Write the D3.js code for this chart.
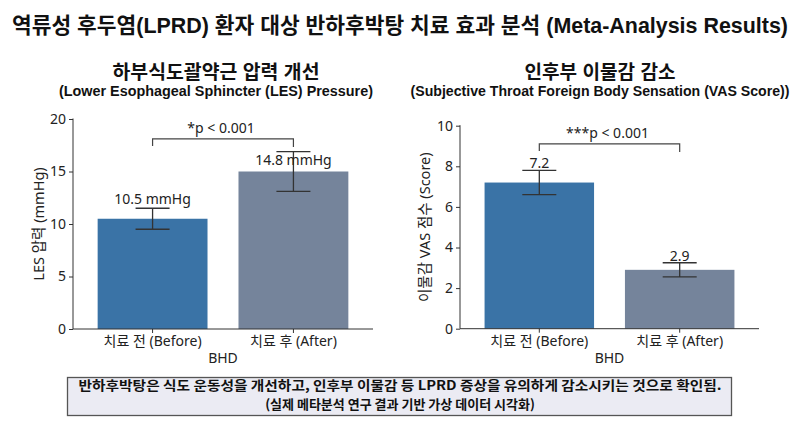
<!DOCTYPE html>
<html>
<head>
<meta charset="utf-8">
<script src="https://cdn.jsdelivr.net/npm/d3@7"></script>
<style>
  body { margin: 0; background: #fff; }
  svg { display: block; }
  .axis text { font-family: "Noto Sans", "Noto Sans CJK KR", sans-serif; font-size: 14px; fill: #222; }
  .axis path, .axis line { stroke: #333; }
</style>
</head>
<body>
<svg id="chart" width="800" height="421"></svg>
<script>
// data
const categories = ["치료 전 (Before)", "치료 후 (After)"];

const lesValues = [10.5, 15.0];
const lesErrors = [1.0, 1.9];
const lesLabels = ["10.5 mmHg", "14.8 mmHg"];
const lesLabelAt = [11.9, 15.6];
const lesTicks = [0, 5, 10, 15, 20];
const lesSig = { text: "*p < 0.001", at: 18.1 };

const vasValues = [7.2, 2.9];
const vasErrors = [0.6, 0.35];
const vasLabels = ["7.2", "2.9"];
const vasLabelAt = [7.93, 3.35];
const vasTicks = [0, 2, 4, 6, 8, 10];
const vasSig = { text: "***p < 0.001", at: 9.1 };

const barColors = ["#3a73a6", "#75849b"];

const svg = d3.select("#chart");
const kr = "'Liberation Sans', 'Noto Sans CJK KR', sans-serif";

svg.append("text")
    .attr("x", 400).attr("y", 33)
    .attr("text-anchor", "middle")
    .attr("font-family", kr).attr("font-weight", "bold").attr("font-size", 21.5)
    .attr("textLength", 776).attr("lengthAdjust", "spacingAndGlyphs")
    .attr("fill", "#111")
    .text("역류성 후두염(LPRD) 환자 대상 반하후박탕 치료 효과 분석 (Meta-Analysis Results)");

function panel(o) {
    const x = d3.scaleBand().domain(categories).range([o.left, o.right])
        .paddingInner(0.22).paddingOuter(0.175);
    const y = d3.scaleLinear().domain(o.domain).range([o.bottom, o.top]);
    const g = svg.append("g");

    g.append("text")
        .attr("x", o.titleX).attr("y", 79).attr("text-anchor", "middle")
        .attr("font-family", kr).attr("font-weight", "bold").attr("font-size", 19)
        .attr("textLength", o.titleLen).attr("lengthAdjust", "spacingAndGlyphs")
        .attr("fill", "#111").text(o.title);
    g.append("text")
        .attr("x", o.titleX).attr("y", 96).attr("text-anchor", "middle")
        .attr("font-family", kr).attr("font-weight", "bold").attr("font-size", 14)
        .attr("textLength", o.subLen).attr("lengthAdjust", "spacingAndGlyphs")
        .attr("fill", "#111").text(o.subtitle);

    g.selectAll("rect.bar")
        .data(o.values)
        .join("rect")
        .attr("class", "bar")
        .attr("x", (d, i) => x(categories[i]))
        .attr("width", x.bandwidth())
        .attr("y", d => y(d))
        .attr("height", d => y(0) - y(d))
        .attr("fill", (d, i) => barColors[i]);

    const cx = i => x(categories[i]) + x.bandwidth() / 2;
    const err = g.append("g").attr("stroke", "#333").attr("stroke-width", 1.3);
    o.values.forEach((v, i) => {
        const lo = y(v - o.errors[i]), hi = y(v + o.errors[i]);
        err.append("line").attr("x1", cx(i)).attr("x2", cx(i)).attr("y1", lo).attr("y2", hi);
        err.append("line").attr("x1", cx(i) - 17).attr("x2", cx(i) + 17).attr("y1", lo).attr("y2", lo);
        err.append("line").attr("x1", cx(i) - 17).attr("x2", cx(i) + 17).attr("y1", hi).attr("y2", hi);
    });

    g.selectAll("text.val")
        .data(o.labels)
        .join("text")
        .attr("class", "val")
        .attr("x", (d, i) => cx(i))
        .attr("y", (d, i) => y(o.labelAt[i]))
        .attr("text-anchor", "middle")
        .attr("font-family", "'Noto Sans', sans-serif").attr("font-size", 14)
        .attr("fill", "#222")
        .text(d => d);

    // significance bracket
    const by = y(o.sig.at);
    g.append("path")
        .attr("d", `M${cx(0)},${by + 7}V${by}H${cx(1)}V${by + 8}`)
        .attr("fill", "none").attr("stroke", "#444").attr("stroke-width", 1.2);
    g.append("text")
        .attr("x", (cx(0) + cx(1)) / 2 - 2).attr("y", by - 6)
        .attr("text-anchor", "middle")
        .attr("font-family", "'Noto Sans', sans-serif").attr("font-size", 14)
        .attr("fill", "#222").text(o.sig.text);

    g.append("g").attr("class", "axis")
        .attr("transform", `translate(${o.left},0)`)
        .call(d3.axisLeft(y).tickValues(o.ticks).tickSize(4).tickPadding(3))
        .call(a => a.select(".domain").attr("d", `M0,${o.top - 0.5}V${o.bottom}`));

    g.append("g").attr("class", "axis")
        .attr("transform", `translate(0,${o.bottom})`)
        .call(d3.axisBottom(x).tickSize(4).tickPadding(3))
        .call(a => a.select(".domain").attr("d", `M${o.left},0H${o.right}`));

    g.append("text")
        .attr("x", (o.left + o.right) / 2).attr("y", 363)
        .attr("text-anchor", "middle")
        .attr("font-family", "'Noto Sans', sans-serif").attr("font-size", 14)
        .attr("fill", "#222").text("BHD");

    g.append("text")
        .attr("transform", `translate(${o.ylabX},${(o.top + o.bottom) / 2}) rotate(-90)`)
        .attr("text-anchor", "middle")
        .attr("font-family", "'Noto Sans', 'Noto Sans CJK KR', sans-serif").attr("font-size", 14.5)
        .attr("fill", "#222").text(o.ylabel);
}

panel({
    left: 73, right: 373, top: 119, bottom: 329,
    domain: [0, 20], ticks: lesTicks,
    values: lesValues, errors: lesErrors, labels: lesLabels, labelAt: lesLabelAt, sig: lesSig,
    title: "하부식도괄약근 압력 개선", titleLen: 207,
    subtitle: "(Lower Esophageal Sphincter (LES) Pressure)", subLen: 314, titleX: 216,
    ylabel: "LES 압력 (mmHg)", ylabX: 44
});

panel({
    left: 460, right: 759, top: 125.7, bottom: 328.7,
    domain: [0, 10], ticks: vasTicks,
    values: vasValues, errors: vasErrors, labels: vasLabels, labelAt: vasLabelAt, sig: vasSig,
    title: "인후부 이물감 감소", titleLen: 151,
    subtitle: "(Subjective Throat Foreign Body Sensation (VAS Score))", subLen: 379, titleX: 600,
    ylabel: "이물감 VAS 점수 (Score)", ylabX: 430
});

// footer note
svg.append("rect")
    .attr("x", 67.5).attr("y", 377.5).attr("width", 664).attr("height", 38)
    .attr("fill", "#ebebf3").attr("stroke", "#555").attr("stroke-width", 1.3);
const note = svg.append("text")
    .attr("text-anchor", "middle")
    .attr("font-family", "'Noto Sans CJK KR', sans-serif").attr("font-size", 13)
    .attr("font-weight", "bold").attr("fill", "#111");
note.append("tspan").attr("x", 400).attr("y", 390)
    .attr("textLength", 643).attr("lengthAdjust", "spacingAndGlyphs")
    .text("반하후박탕은 식도 운동성을 개선하고, 인후부 이물감 등 LPRD 증상을 유의하게 감소시키는 것으로 확인됨.");
note.append("tspan").attr("x", 400).attr("y", 409)
    .text("(실제 메타분석 연구 결과 기반 가상 데이터 시각화)");
</script>
</body>
</html>
